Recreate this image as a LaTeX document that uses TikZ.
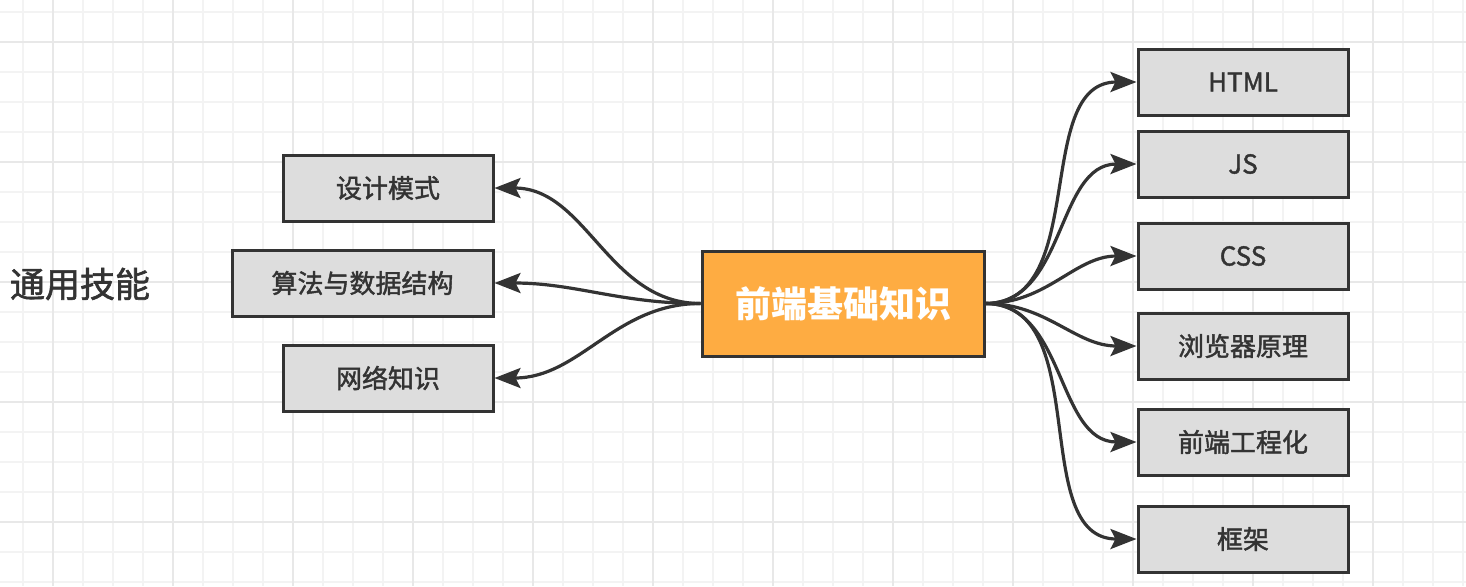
\documentclass[tikz,border=0pt]{standalone}
\usepackage{fontspec}
\setmainfont{Noto Sans CJK SC}
\newfontfamily\medfont{Noto Sans CJK SC}[FakeBold=1.6]
\usetikzlibrary{arrows.meta}
\definecolor{ink}{HTML}{333333}
\definecolor{leaffill}{HTML}{DDDDDD}
\definecolor{corefill}{HTML}{FEAC42}
\definecolor{gridminor}{HTML}{F3F3F3}
\definecolor{gridmajor}{HTML}{E8E8E8}

\begin{document}
\begin{tikzpicture}[x=0.5pt,y=-0.5pt,>={Stealth[length=13pt,width=10pt,inset=2.5pt]},
 leaf/.style={draw=ink,fill=leaffill,line width=1.5pt,minimum width=105pt,minimum height=33pt,inner sep=0pt,font=\medfont\fontsize{13}{15}\selectfont,text=ink},
 core/.style={draw=ink,fill=corefill,line width=1.5pt,minimum width=141pt,minimum height=52.5pt,inner sep=0pt,font=\bfseries\fontsize{18}{21}\selectfont,text=white},
 link/.style={->,line width=1.6pt,draw=ink}]
\useasboundingbox (0,0) rectangle (1466,586);
\fill[white] (0,0) rectangle (1466,586);
% background grid
\foreach \x in {23,53,...,1463} \draw[gridminor,line width=0.9pt] (\x,0)--(\x,586);
\foreach \y in {12,42,...,582} \draw[gridminor,line width=0.9pt] (0,\y)--(1466,\y);
\foreach \x in {53,173,...,1433} \draw[gridmajor,line width=0.9pt] (\x,0)--(\x,586);
\foreach \y in {42,162,...,522} \draw[gridmajor,line width=0.9pt] (0,\y)--(1466,\y);
\node[core] (base) at (843,303.5) {前端基础知识};
\node[leaf] (html) at (1243,82) {HTML};
\node[leaf] (js) at (1243,164) {JS};
\node[leaf] (css) at (1243,256) {CSS};
\node[leaf] (browser) at (1243,346) {浏览器原理};
\node[leaf] (eng) at (1243,442) {前端工程化};
\node[leaf] (frame) at (1243,539) {框架};
\node[leaf] (design) at (388,188) {设计模式};
\node[leaf,minimum width=130.5pt] (algo) at (362.5,283) {算法与数据结构};
\node[leaf] (net) at (388,378) {网络知识};
\node[font=\medfont\fontsize{17.5}{20}\selectfont,text=ink] (general) at (80,284) {通用技能};
\foreach \n in {html,js,css,browser,eng,frame} \draw[link] (base.east) to[out=0,in=180] (\n.west);
\foreach \n in {design,algo,net} \draw[link] (base.west) to[out=180,in=0] (\n.east);
\end{tikzpicture}
\end{document}
